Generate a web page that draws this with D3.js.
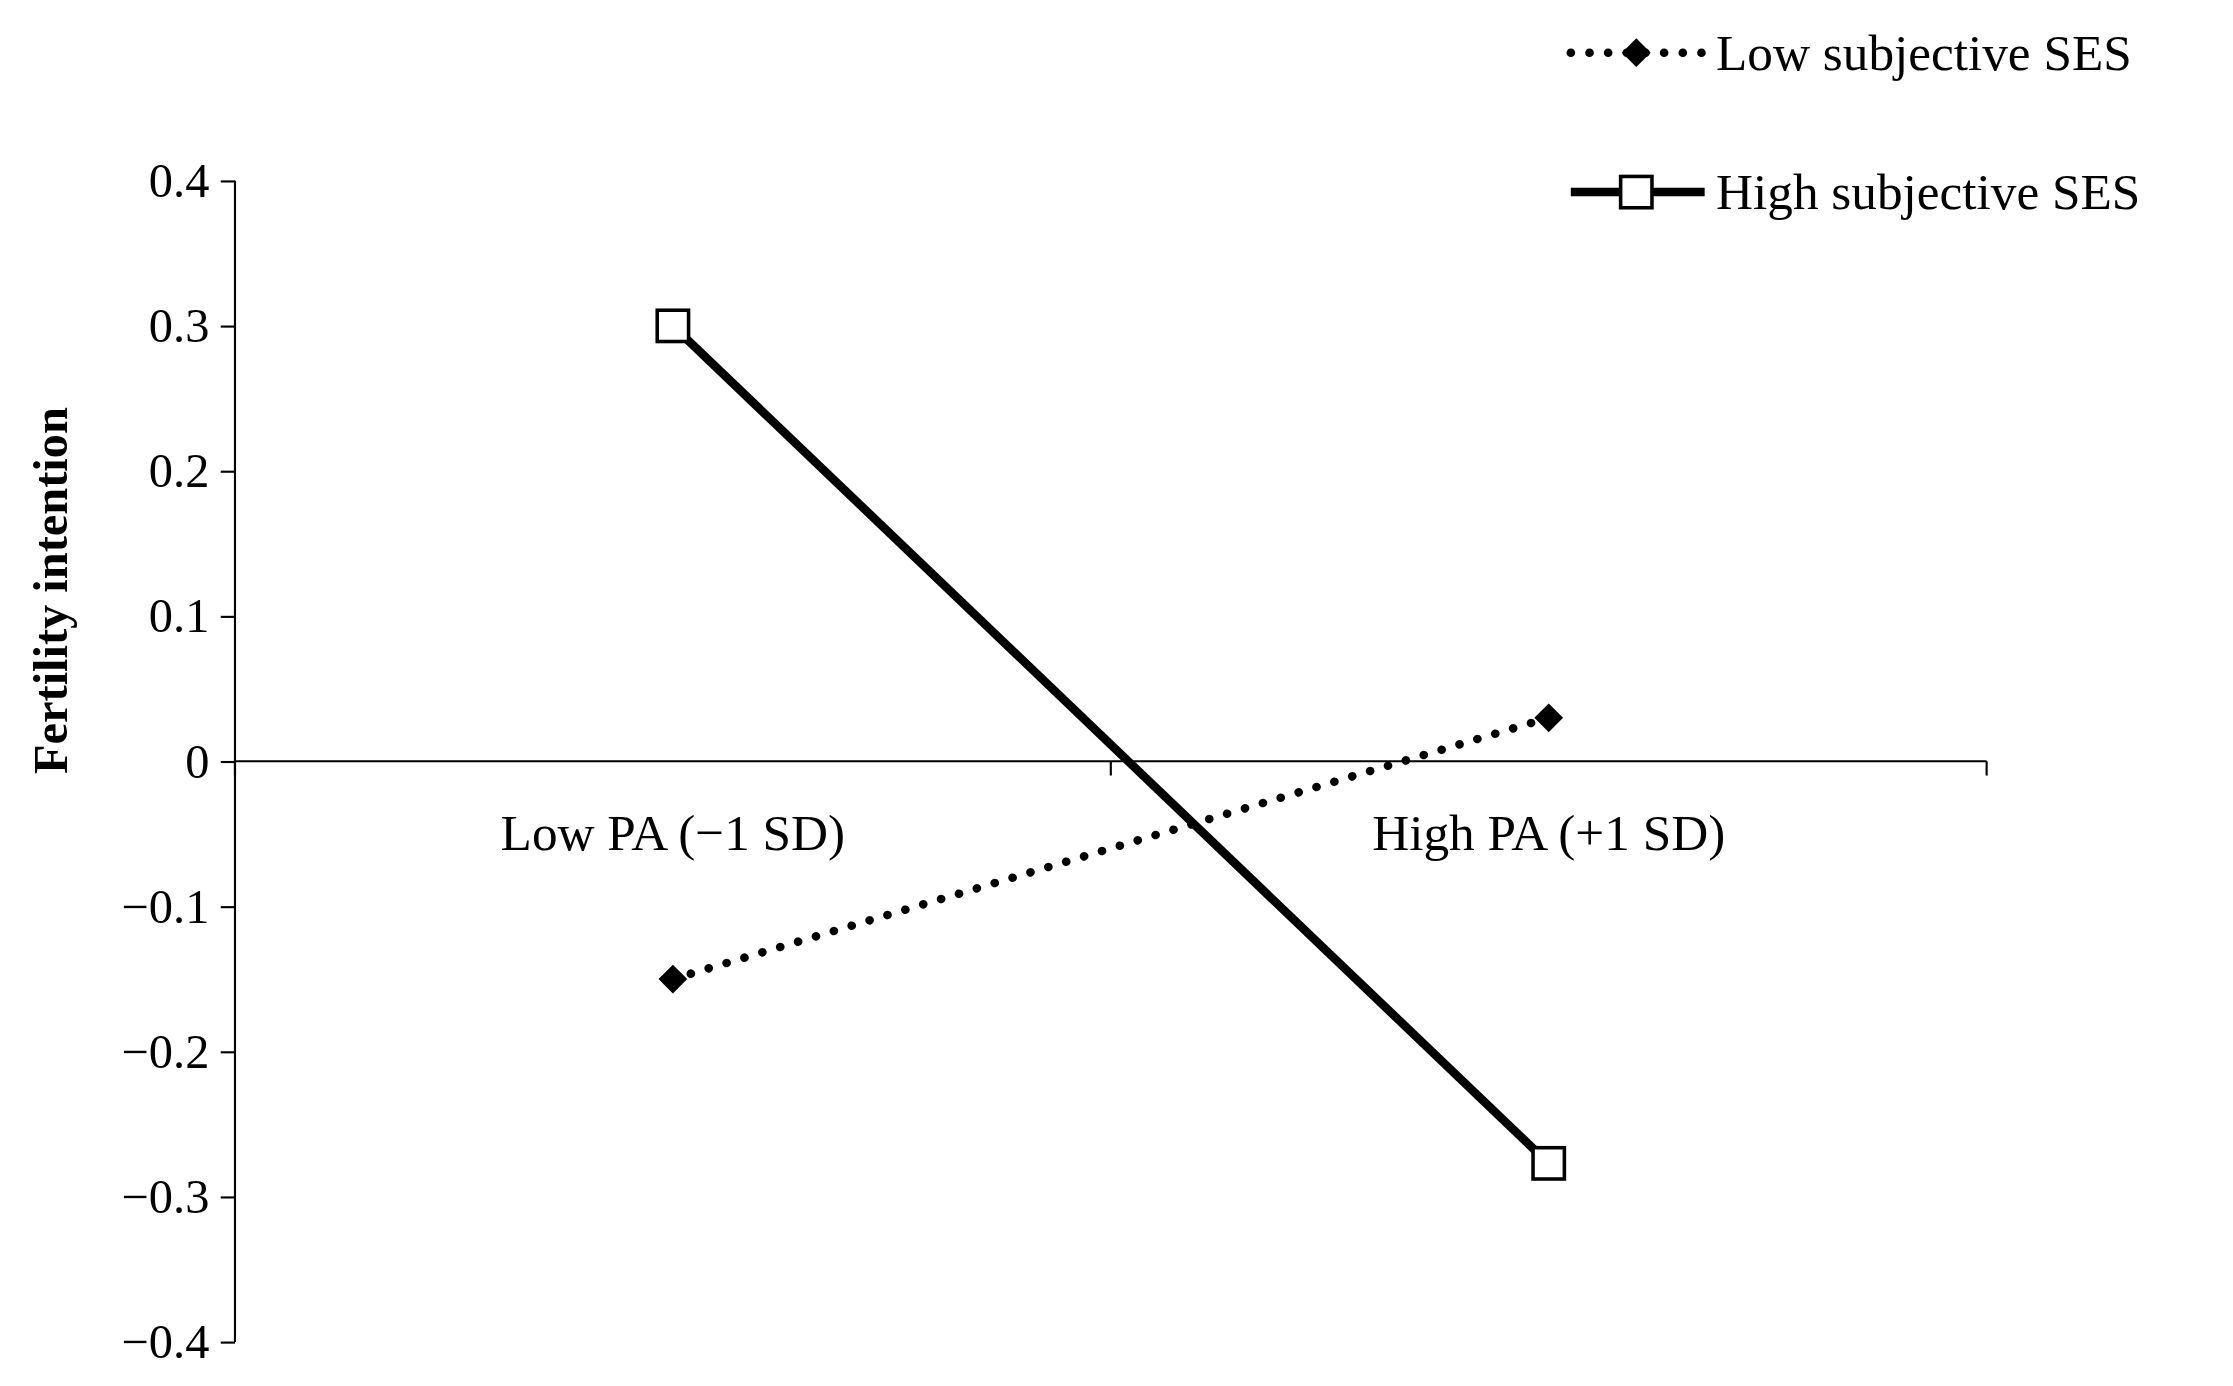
<!DOCTYPE html>
<html><head><meta charset="utf-8">
<script src="https://cdn.jsdelivr.net/npm/d3@7"></script>
<style>
html,body{margin:0;padding:0;background:#fff;overflow:hidden}
svg{display:block}
text{font-family:"Liberation Serif","Times New Roman",serif;fill:#000}
</style></head>
<body>
<svg id="chart"></svg>
<script>
// data
const categories = ["Low PA (\u22121 SD)", "High PA (+1 SD)"];
const lowSES = [-0.15, 0.03];
const highSES = [0.30, -0.277];
const yTicks = [0.4, 0.3, 0.2, 0.1, 0, -0.1, -0.2, -0.3, -0.4];
const seriesNames = ["Low subjective SES", "High subjective SES"];

const W = 1568, H = 974;
const svg = d3.select('#chart')
	.attr('width', 2233).attr('height', 1386)
	.attr('viewBox', `0 0 ${W} ${H}`)
	.attr('preserveAspectRatio', 'none');

const plotLeft = 165, plotRight = 1395, plotTop = 127, plotBottom = 943;

const x = d3.scaleBand().domain(categories).range([plotLeft, plotRight]);
const y = d3.scaleLinear().domain([-0.4, 0.4]).range([plotBottom, plotTop]);

// y axis
const yAxis = d3.axisLeft(y).tickValues(yTicks).tickSize(10).tickPadding(8)
	.tickFormat(d => d === 0 ? "0" : d3.format(".1f")(d));
const gy = svg.append('g').attr('transform', `translate(${plotLeft},0)`).call(yAxis);
gy.select('.domain').attr('stroke', '#000').attr('stroke-width', 1.5).attr('d', `M0,${plotTop}V${plotBottom}`);
gy.selectAll('line').attr('stroke', '#000').attr('stroke-width', 1.5);
gy.selectAll('text').style('font-size', '34px').style('font-family', '"Liberation Serif",serif');

// x axis at zero
const gx = svg.append('g').attr('transform', `translate(0,${y(0)})`);
gx.append('line').attr('x1', plotLeft).attr('x2', plotRight).attr('stroke', '#000').attr('stroke-width', 1.5);
gx.selectAll('line.tick').data([plotLeft, plotLeft + x.bandwidth(), plotRight]).join('line')
	.attr('class', 'tick').attr('x1', d => d).attr('x2', d => d).attr('y1', 0).attr('y2', 10)
	.attr('stroke', '#000').attr('stroke-width', 1.5);
gx.selectAll('text').data(categories).join('text')
	.attr('x', d => x(d) + x.bandwidth() / 2).attr('y', 62)
	.attr('text-anchor', 'middle').style('font-size', '36px').text(d => d);

// y label
svg.append('text').attr('transform', `translate(47,${(plotTop + plotBottom) / 2 - 120}) rotate(-90)`)
	.attr('text-anchor', 'middle').style('font-size', '34px').style('font-weight', 'bold')
	.text('Fertility intention');

const line = d3.line().x((d, i) => x(categories[i]) + x.bandwidth() / 2).y(d => y(d));

// low SES dotted
svg.append('path').datum(lowSES).attr('d', line).attr('fill', 'none')
	.attr('stroke', '#000').attr('stroke-width', 6).attr('stroke-dasharray', '0.1 13')
	.attr('stroke-linecap', 'round');
const diamond = d3.symbol().type(d3.symbolDiamond2).size(260);
svg.selectAll('path.dia').data(lowSES).join('path').attr('class', 'dia')
	.attr('transform', (d, i) => `translate(${x(categories[i]) + x.bandwidth() / 2},${y(d)})`)
	.attr('d', diamond).attr('fill', '#000');

// high SES solid
svg.append('path').datum(highSES).attr('d', line).attr('fill', 'none')
	.attr('stroke', '#000').attr('stroke-width', 6);
svg.selectAll('rect.sq').data(highSES).join('rect').attr('class', 'sq')
	.attr('x', (d, i) => x(categories[i]) + x.bandwidth() / 2 - 11).attr('y', d => y(d) - 11)
	.attr('width', 22).attr('height', 22).attr('fill', '#fff').attr('stroke', '#000').attr('stroke-width', 2.5);

// legend
const lg = svg.append('g');
lg.append('line').attr('x1', 1103).attr('x2', 1195).attr('y1', 37).attr('y2', 37)
	.attr('stroke', '#000').attr('stroke-width', 6).attr('stroke-dasharray', '0.1 13').attr('stroke-linecap', 'round');
lg.append('path').attr('transform', 'translate(1149,37)').attr('d', diamond).attr('fill', '#000');
lg.append('line').attr('x1', 1103).attr('x2', 1197).attr('y1', 135).attr('y2', 135)
	.attr('stroke', '#000').attr('stroke-width', 6);
lg.append('rect').attr('x', 1138).attr('y', 124).attr('width', 22).attr('height', 22)
	.attr('fill', '#fff').attr('stroke', '#000').attr('stroke-width', 2.5);
lg.selectAll('text').data(seriesNames).join('text')
	.attr('x', 1205).attr('y', (d, i) => 37 + i * 98 + 12)
	.style('font-size', '36px').text(d => d);
</script>
</body></html>
